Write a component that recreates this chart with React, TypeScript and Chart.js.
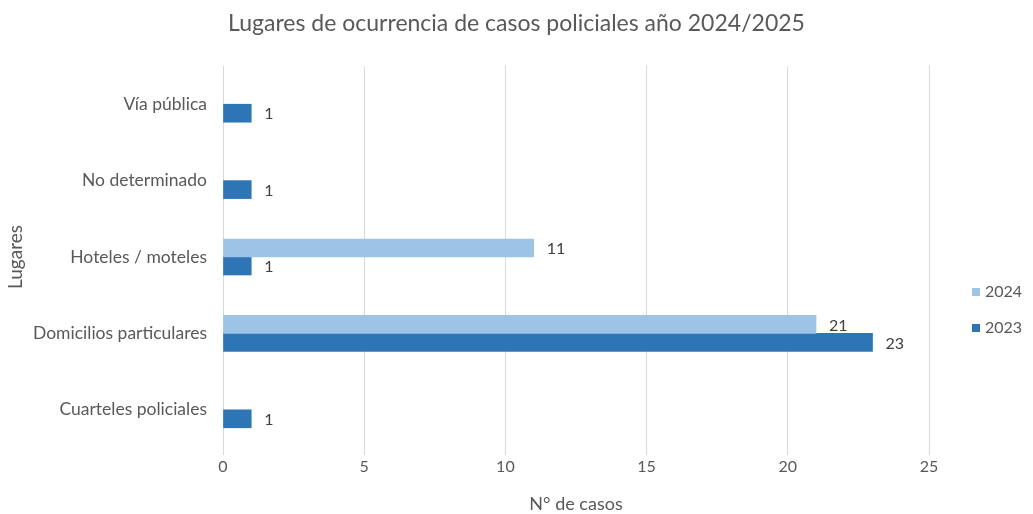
import React, { useEffect, useRef } from "react";
import { Chart, registerables } from "chart.js";

Chart.register(...registerables);

const chartTitle = "Lugares de ocurrencia de casos policiales año 2024/2025";
const categories = ["Vía pública", "No determinado", "Hoteles / moteles", "Domicilios particulares", "Cuarteles policiales"];
const series2024 = [null, null, 11, 21, null];
const series2023 = [1, 1, 1, 23, 1];
const seriesNames = ["2024", "2023"];
const colors = ["#9DC3E6", "#2E75B6"];
const xTicks = [0, 5, 10, 15, 20, 25];

const FONT = "Lato, 'Open Sans', sans-serif";
const TEXT = "#595959";

const dataLabels = {
  id: "dataLabels",
  afterDatasetsDraw(chart: any) {
    const ctx = chart.ctx;
    ctx.save();
    ctx.font = `16px ${FONT}`;
    ctx.fillStyle = "#404040";
    ctx.textAlign = "left";
    ctx.textBaseline = "middle";
    chart.data.datasets.forEach((ds: any, di: number) => {
      const meta = chart.getDatasetMeta(di);
      meta.data.forEach((el: any, i: number) => {
        const v = ds.data[i];
        if (v === null || v === undefined) return;
        ctx.fillText(String(v), el.x + 13, el.y + 1);
      });
    });
    ctx.restore();
  },
};

const centeredTitle = {
  id: "centeredTitle",
  afterDraw(chart: any) {
    const ctx = chart.ctx;
    ctx.save();
    ctx.font = `23px ${FONT}`;
    ctx.fillStyle = TEXT;
    ctx.textAlign = "center";
    ctx.textBaseline = "middle";
    ctx.fillText(chartTitle, chart.width / 2, 24);
    ctx.restore();
  },
};

const sideLegend = {
  id: "sideLegend",
  afterDraw(chart: any) {
    const ctx = chart.ctx;
    ctx.save();
    ctx.font = `16px ${FONT}`;
    ctx.textAlign = "left";
    ctx.textBaseline = "middle";
    const ys = [292, 328];
    chart.data.datasets.forEach((ds: any, i: number) => {
      ctx.fillStyle = ds.backgroundColor;
      ctx.fillRect(972, ys[i] - 4, 8, 8);
      ctx.fillStyle = TEXT;
      ctx.fillText(ds.label, 985, ys[i]);
    });
    ctx.restore();
  },
};

export default function App() {
  const ref = useRef<HTMLCanvasElement>(null);
  useEffect(() => {
    const chart = new Chart(ref.current!, {
      type: "bar",
      data: {
        labels: categories,
        datasets: [
          { label: seriesNames[0], data: series2024, backgroundColor: colors[0], barThickness: 18 },
          { label: seriesNames[1], data: series2023, backgroundColor: colors[1], barThickness: 18 },
        ],
      },
      options: {
        indexAxis: "y",
        animation: false,
        responsive: false,
        maintainAspectRatio: false,
        layout: { padding: { left: 0, right: 104, top: 66, bottom: 0 } },
        plugins: {
          legend: { display: false },
          tooltip: { enabled: false },
          title: { display: false },
        },
        scales: {
          x: {
            min: 0,
            max: 25,
            afterBuildTicks: (s: any) => {
              s.ticks = xTicks.map((v) => ({ value: v }));
            },
            afterFit: (s: any) => {
              s.height = 66;
            },
            grid: { color: "#D9D9D9", drawTicks: true, tickLength: 7, tickColor: "#D9D9D9" },
            border: { display: false },
            ticks: { color: TEXT, font: { family: FONT, size: 16 }, padding: 2 },
            title: {
              display: true,
              text: "N° de casos",
              color: TEXT,
              font: { family: FONT, size: 18 },
              padding: { top: 0, bottom: -1 },
            },
          },
          y: {
            afterFit: (s: any) => {
              s.width = 223;
            },
            grid: { display: false, drawTicks: false },
            border: { display: true, color: "#D9D9D9" },
            ticks: { color: TEXT, font: { family: FONT, size: 17.5 }, padding: 16 },
            title: {
              display: true,
              text: "Lugares",
              color: TEXT,
              font: { family: FONT, size: 19 },
              padding: { top: 4, bottom: 0 },
            },
          },
        },
      },
      plugins: [dataLabels, centeredTitle, sideLegend],
    });
    return () => chart.destroy();
  }, []);
  return (
    <div style={{ position: "fixed", left: 0, top: 0, width: 1033, height: 514, background: "#fff" }}>
      <canvas ref={ref} width={1033} height={514} style={{ width: 1033, height: 514 }} />
    </div>
  );
}
